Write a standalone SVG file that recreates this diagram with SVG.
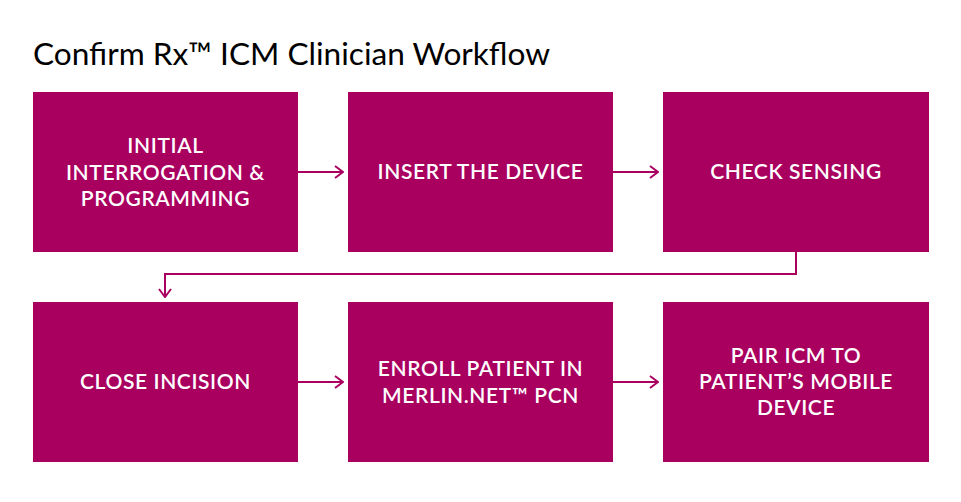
<svg xmlns="http://www.w3.org/2000/svg" width="961" height="502" viewBox="0 0 961 502">
<defs>
<style>
.box{fill:#A90060}
.t{font-family:Lato,"Open Sans","DejaVu Sans",sans-serif;font-size:21px;font-weight:600;letter-spacing:0.6px;fill:#ffffff;text-anchor:middle}
.title{font-family:Lato,"Open Sans","DejaVu Sans",sans-serif;font-size:31.6px;fill:#000000}
.c{fill:none;stroke:#A90060;stroke-width:2}
</style>
<marker id="ah" viewBox="0 0 10 14" refX="9" refY="7" markerWidth="10" markerHeight="14" markerUnits="userSpaceOnUse" orient="auto">
<path d="M1,1 L9,7 L1,13" fill="none" stroke="#A90060" stroke-width="2"/>
</marker>
</defs>
<rect width="961" height="502" fill="#ffffff"/>
<text class="title" x="33" y="65">Confirm Rx™ ICM Clinician Workflow</text>
<g id="connectors">
<path class="c" d="M298,172 H343" marker-end="url(#ah)"/>
<path class="c" d="M613,172 H658" marker-end="url(#ah)"/>
<path class="c" d="M796,252 V274 H165 V297" marker-end="url(#ah)"/>
<path class="c" d="M298,382 H343" marker-end="url(#ah)"/>
<path class="c" d="M613,382 H658" marker-end="url(#ah)"/>
</g>
<g id="n1"><rect class="box" x="33" y="92" width="265" height="160"/>
<text class="t" x="165.5" y="153">INITIAL</text>
<text class="t" x="165.5" y="179.5">INTERROGATION &amp;</text>
<text class="t" x="165.5" y="206">PROGRAMMING</text></g>
<g id="n2"><rect class="box" x="348" y="92" width="265" height="160"/>
<text class="t" x="480.5" y="179">INSERT THE DEVICE</text></g>
<g id="n3"><rect class="box" x="663" y="92" width="266" height="160"/>
<text class="t" x="796" y="179">CHECK SENSING</text></g>
<g id="n4"><rect class="box" x="33" y="302" width="265" height="160"/>
<text class="t" x="165.5" y="389">CLOSE INCISION</text></g>
<g id="n5"><rect class="box" x="348" y="302" width="265" height="160"/>
<text class="t" x="480.5" y="376">ENROLL PATIENT IN</text>
<text class="t" x="480.5" y="402.5">MERLIN.NET™ PCN</text></g>
<g id="n6"><rect class="box" x="663" y="302" width="266" height="160"/>
<text class="t" x="796" y="363">PAIR ICM TO</text>
<text class="t" x="796" y="389">PATIENT’S MOBILE</text>
<text class="t" x="796" y="415">DEVICE</text></g>
</svg>
